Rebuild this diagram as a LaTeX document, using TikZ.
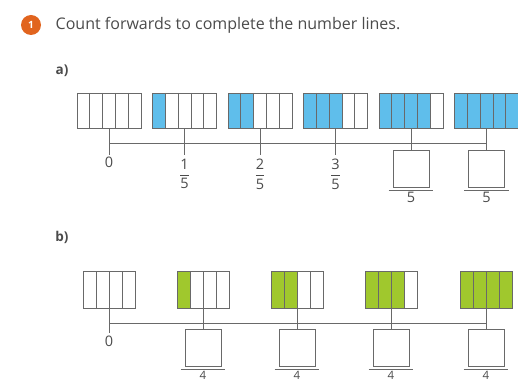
\documentclass[tikz,border=0pt]{standalone}
\usepackage{fontspec}
\setmainfont{Open Sans}
\usetikzlibrary{positioning}
\definecolor{barblue}{RGB}{95,190,235}
\definecolor{bargreen}{RGB}{160,200,45}
\definecolor{badge}{RGB}{225,100,30}
\definecolor{linegray}{RGB}{105,105,105}
\definecolor{textgray}{RGB}{75,75,75}
\newcommand{\frc}[2]{$\displaystyle\frac{\mbox{#1}\rule[-3pt]{0pt}{3pt}}{\mbox{#2}\rule{0pt}{12pt}}$}

\begin{document}
\begin{tikzpicture}[x=1pt,y=-1pt, line width=0.8pt, draw=linegray, text=textgray,
	fifths/.style = {draw, inner sep=0pt, minimum width=64pt, minimum height=35pt,
		path picture={\fill[barblue] (path picture bounding box.north west) rectangle ([xshift=#1*12.8pt]path picture bounding box.south west);
			\foreach \k in {1,...,4} \draw[linegray] ([xshift=\k*12.8pt]path picture bounding box.north west) -- ([xshift=\k*12.8pt]path picture bounding box.south west);}},
	quarters/.style = {draw, inner sep=0pt, minimum width=52pt, minimum height=37pt,
		path picture={\fill[bargreen] (path picture bounding box.north west) rectangle ([xshift=#1*13pt]path picture bounding box.south west);
			\foreach \k in {1,...,3} \draw[linegray] ([xshift=\k*13pt]path picture bounding box.north west) -- ([xshift=\k*13pt]path picture bounding box.south west);}},
	blank/.style = {draw, inner sep=0pt, minimum width=36pt, minimum height=37pt},
	num/.style = {font=\fontsize{14.5}{16}\selectfont, inner sep=0.5pt}]
	\useasboundingbox (0,0) rectangle (518,382);

	% heading
	\node[circle, fill=badge, minimum size=20pt, inner sep=0pt, text=white, font=\bfseries\fontsize{10}{10}\selectfont] (q) at (31,25) {1};
	\node[anchor=west, font=\fontsize{16}{18}\selectfont] (title) at (52,25) {Count forwards to complete the number lines.};
	\node[font=\bfseries\fontsize{13.5}{15}\selectfont] (pa) at (62,71) {a)};
	\node[font=\bfseries\fontsize{13.5}{15}\selectfont] (pb) at (62,237) {b)};

	% a) fifths
	\node[fifths=0] (a0) at (109,110.5) {};
	\node[fifths=1] (a1) at (184.5,110.5) {};
	\node[fifths=2] (a2) at (260,110.5) {};
	\node[fifths=3] (a3) at (335.5,110.5) {};
	\node[fifths=4] (a4) at (411,110.5) {};
	\node[fifths=5] (a5) at (486.5,110.5) {};
	\coordinate (ta0) at (109,155);
	\coordinate (ta1) at (184.5,155);
	\coordinate (ta2) at (260,155);
	\coordinate (ta3) at (335.5,155);
	\coordinate (la) at (0,143);
	\node[blank] (ba4) at (411,168.5) {};
	\node[blank] (ba5) at (486.5,168.5) {};
	\draw (a0.south |- la) -- (a5.south |- la);
	\draw (a0.south) -- (ta0);
	\draw (a1.south) -- (ta1);
	\draw (a2.south) -- (ta2);
	\draw (a3.south) -- (ta3);
	\draw (a4.south) -- (ba4.north);
	\draw (a5.south) -- (ba5.north);
	\node[num, below=1pt of ta0] (na0) {0};
	\node[num, below=3pt of ta1] (na1) {\frc{1}{5}};
	\node[num, below=3pt of ta2] (na2) {\frc{2}{5}};
	\node[num, below=3pt of ta3] (na3) {\frc{3}{5}};
	\draw ([shift={(-4,3)}]ba4.south west) -- ([shift={(4,3)}]ba4.south east);
	\draw ([shift={(-4,3)}]ba5.south west) -- ([shift={(4,3)}]ba5.south east);
	\node[num, below=4pt of ba4] (da4) {5};
	\node[num, below=4pt of ba5] (da5) {5};

	% b) quarters
	\node[quarters=0] (b0) at (109,289.5) {};
	\node[quarters=1] (b1) at (203,289.5) {};
	\node[quarters=2] (b2) at (297,289.5) {};
	\node[quarters=3] (b3) at (391,289.5) {};
	\node[quarters=4] (b4) at (486,289.5) {};
	\coordinate (tb0) at (109,333);
	\coordinate (lb) at (0,323);
	\node[blank] (bb1) at (203,347.5) {};
	\node[blank] (bb2) at (297,347.5) {};
	\node[blank] (bb3) at (391,347.5) {};
	\node[blank] (bb4) at (486,347.5) {};
	\draw (b0.south |- lb) -- (b4.south |- lb);
	\draw (b0.south) -- (tb0);
	\draw (b1.south) -- (bb1.north);
	\draw (b2.south) -- (bb2.north);
	\draw (b3.south) -- (bb3.north);
	\draw (b4.south) -- (bb4.north);
	\node[num, below=2pt of tb0] (nb0) {0};
	\draw ([shift={(-4,3)}]bb1.south west) -- ([shift={(4,3)}]bb1.south east);
	\draw ([shift={(-4,3)}]bb2.south west) -- ([shift={(4,3)}]bb2.south east);
	\draw ([shift={(-4,3)}]bb3.south west) -- ([shift={(4,3)}]bb3.south east);
	\draw ([shift={(-4,3)}]bb4.south west) -- ([shift={(4,3)}]bb4.south east);
	\node[num, font=\fontsize{11.5}{12}\selectfont, inner sep=0pt, below=4.5pt of bb1] (db1) {4};
	\node[num, font=\fontsize{11.5}{12}\selectfont, inner sep=0pt, below=4.5pt of bb2] (db2) {4};
	\node[num, font=\fontsize{11.5}{12}\selectfont, inner sep=0pt, below=4.5pt of bb3] (db3) {4};
	\node[num, font=\fontsize{11.5}{12}\selectfont, inner sep=0pt, below=4.5pt of bb4] (db4) {4};
\end{tikzpicture}
\end{document}
